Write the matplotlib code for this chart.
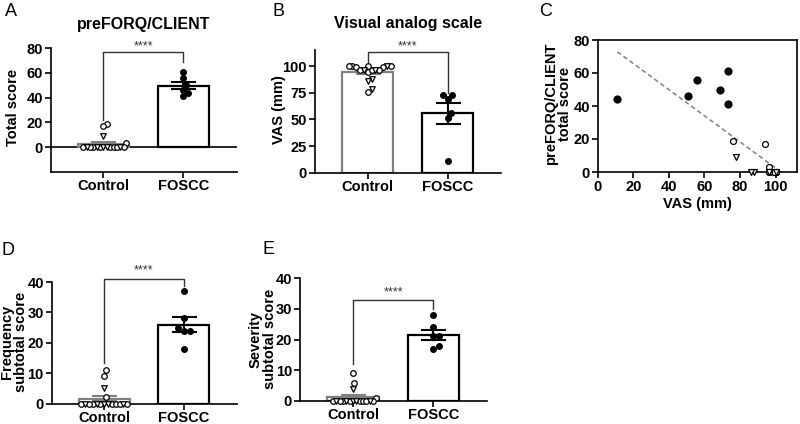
import numpy as np
import matplotlib
matplotlib.use("Agg")
import matplotlib.pyplot as plt

plt.rcParams["font.family"] = ["Liberation Sans", "DejaVu Sans"]
plt.rcParams["font.weight"] = "bold"
plt.rcParams["axes.labelweight"] = "bold"
plt.rcParams["axes.linewidth"] = 1.2

groups = ["Control", "FOSCC"]

# control animals ('c' = circle, 't' = triangle marker group)
ctrl_kind  = ['c', 't', 'c', 'c', 't', 't', 'c', 'c', 't', 'c', 'c', 'c', 'c', 't', 't', 'c', 'c']
ctrl_vas   = [76, 78, 94, 96, 88, 86, 100, 100, 100, 100, 100, 99, 99, 96, 96, 96, 96]
ctrl_total = [19, 9, 17, 3, 0, 0, 0, 0, 0, 0, 0, 0, 0, 0, 0, 0, 0]
ctrl_freq  = [11, 5, 9, 2, 0, 0, 0, 0, 0, 0, 0, 0, 0, 0, 0, 0, 0]
ctrl_sev   = [9, 4, 6, 1, 0, 0, 0, 0, 0, 0, 0, 0, 0, 0, 0, 0, 0]

# FOSCC cats
foscc_vas   = [11, 51, 56, 69, 73, 73]
foscc_total = [44, 46, 56, 50, 61, 41]
foscc_freq  = [24, 25, 37, 28, 18, 24]
foscc_sev   = [21, 21, 28, 24, 17, 18]

GRAY = "#808080"
W, H = 800, 424

fig = plt.figure(figsize=(8, 4.24), dpi=100)


def rect(l, t, r, b):
    # pixel box -> figure fraction
    return [l / W, 1 - b / H, (r - l) / W, (b - t) / H]


def swarm(ax, xc, vals, dmin, maxhalf):
    # beeswarm-ish horizontal offsets in pixel space, squeezed into the bar
    vals = np.asarray(vals, float)
    tr = ax.transData
    x0 = tr.transform((xc, 0))[0]
    placed = []
    offs = np.zeros(len(vals))
    ys = np.zeros(len(vals))
    for i in np.argsort(vals, kind="stable"):
        y = tr.transform((xc, vals[i]))[1]
        k = 0.0
        found = None
        while found is None:
            for off in ([0.0] if k == 0 else [k, -k]):
                if all((px - (x0 + off)) ** 2 + (py - y) ** 2 >= dmin ** 2 for px, py in placed):
                    found = off
                    break
            k += 0.5
        placed.append((x0 + found, y))
        offs[i] = found
        ys[i] = y
    big = np.abs(offs).max()
    if big > maxhalf:
        offs = offs * maxhalf / big
    return np.array([tr.inverted().transform((x0 + o, y))[0] for o, y in zip(offs, ys)])


def style(ax):
    ax.spines["top"].set_visible(False)
    ax.spines["right"].set_visible(False)
    ax.tick_params(direction="out", length=4.5, width=1.2, labelsize=10.5, pad=1.2)
    ax.tick_params(axis="x", pad=0.8)


def bar_panel(ax, ctrl, fos, ylim, yticks, dmin):
    ctrl = np.asarray(ctrl, float)
    fos = np.asarray(fos, float)
    ax.set_xlim(-0.66, 1.67)
    ax.set_ylim(*ylim)
    ax.set_yticks(yticks)
    ax.set_xticks([0, 1])
    ax.set_xticklabels(groups)
    style(ax)
    for i, (d, c) in enumerate([(ctrl, GRAY), (fos, "black")]):
        m = d.mean()
        se = d.std(ddof=1) / np.sqrt(len(d))
        ax.bar(i, m, width=0.64, facecolor="white", edgecolor=c, linewidth=1.6, zorder=1)
        ax.errorbar(i, m, yerr=se, color=c, capsize=9, elinewidth=1.5, capthick=1.5, zorder=2)
    xs = swarm(ax, 0, ctrl, dmin, 23)
    kinds = np.array(ctrl_kind)
    for k, mk in [("c", "o"), ("t", "v")]:
        sel = kinds == k
        ax.scatter(xs[sel], ctrl[sel], s=16, marker=mk, facecolors="white",
                   edgecolors="black", linewidths=0.9, zorder=3, clip_on=False)
    xf = swarm(ax, 1, fos, 6, 16)
    ax.scatter(xf, fos, s=16, color="black", zorder=3, clip_on=False)


def bracket(ax, top, left_low, right_low, star_y):
    ax.plot([0, 0, 1, 1], [left_low, top, top, right_low], color="#333333", lw=1, clip_on=False)
    ax.text(0.5, star_y, "****", ha="center", va="center", fontsize=9,
            fontweight="normal", color="#333333")


# A
axA = fig.add_axes(rect(50.7, 48, 237, 172))
bar_panel(axA, ctrl_total, foscc_total, (-20, 80), [0, 20, 40, 60, 80], 6.0)
axA.axhline(0, color="black", lw=1.2, zorder=0.5)
bracket(axA, 77, 22, 69, 81.5)
axA.set_title("preFORQ/CLIENT", fontsize=11.5, fontweight="bold", pad=14)

# B
axB = fig.add_axes(rect(315, 50, 501, 172.7))
bar_panel(axB, ctrl_vas, foscc_vas, (0, 115), [0, 25, 50, 75, 100], 6.0)
bracket(axB, 113, 103, 75, 118.5)
axB.set_title("Visual analog scale", fontsize=11.5, fontweight="bold", pad=16)

# C
axC = fig.add_axes(rect(597.7, 40, 797, 172))
axC.set_xlim(0, 112)
axC.set_ylim(0, 80)
axC.set_xticks([0, 20, 40, 60, 80, 100])
axC.set_yticks([0, 20, 40, 60, 80])
axC.tick_params(direction="out", length=4.5, width=1.2, labelsize=10.5, pad=1.2)
all_vas = np.array(ctrl_vas + foscc_vas, float)
all_tot = np.array(ctrl_total + foscc_total, float)
slope, icpt = np.polyfit(all_vas, all_tot, 1)
xl = np.array([all_vas.min(), all_vas.max()])
axC.plot(xl, slope * xl + icpt, ls=(0, (3, 2)), color=GRAY, lw=1.1, zorder=1)
kinds = np.array(ctrl_kind)
cv = np.array(ctrl_vas, float)
ct = np.array(ctrl_total, float)
for k, mk in [("c", "o"), ("t", "v")]:
    sel = kinds == k
    axC.scatter(cv[sel], ct[sel], s=18, marker=mk, facecolors="white",
                edgecolors="black", linewidths=0.9, zorder=3, clip_on=False)
axC.scatter(foscc_vas, foscc_total, s=24, color="black", zorder=3)
axC.set_xlabel("VAS (mm)", fontsize=10.5, labelpad=2)

# D
axD = fig.add_axes(rect(51.7, 282, 237, 403.5))
bar_panel(axD, ctrl_freq, foscc_freq, (0, 40), [0, 10, 20, 30, 40], 6.5)
bracket(axD, 41, 13.4, 38.7, 43.8)

# E
axE = fig.add_axes(rect(300, 278, 487, 401))
bar_panel(axE, ctrl_sev, foscc_sev, (0, 40), [0, 10, 20, 30, 40], 6.5)
bracket(axE, 33, 12, 30, 35.2)


# y labels and panel letters
def ylab(x, y, s, **kw):
    fig.text(x / W, 1 - y / H, s, rotation=90, ha="center", va="center",
             fontsize=10.5, fontweight="bold", multialignment="center", **kw)


ylab(13, 107, "Total score")
ylab(279, 110, "VAS (mm)")
ylab(558, 104, "preFORQ/CLIENT\ntotal score", linespacing=1.0)
ylab(14, 342, "Frequency\nsubtotal score", linespacing=1.0)
ylab(263, 339, "Severity\nsubtotal score", linespacing=1.0)

for lab, x, y in [("A", 11, 12), ("B", 279, 12), ("C", 546, 12), ("D", 8, 250), ("E", 268, 249)]:
    fig.text(x / W, 1 - y / H, lab, ha="center", va="center", fontsize=13, fontweight="normal")

fig.savefig("out.png", dpi=100)
